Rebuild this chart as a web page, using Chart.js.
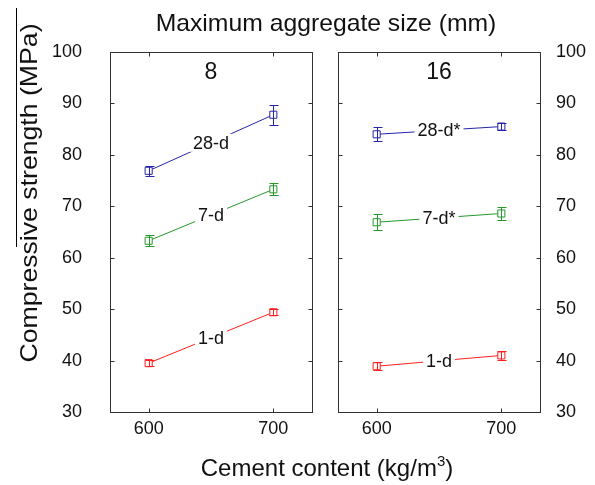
<!DOCTYPE html>
<html><head><meta charset="utf-8">
<script src="https://cdn.jsdelivr.net/npm/chart.js@4/dist/chart.umd.min.js"></script>
<style>
html,body{margin:0;padding:0;background:#fff;}
#wrap{position:relative;width:595px;height:485px;overflow:hidden;font-family:'Liberation Sans',Arial,sans-serif;color:#111;}
canvas{position:absolute;top:0;}
#c1{left:0;} #c2{left:320px;}
.t{position:absolute;white-space:nowrap;font-size:24px;line-height:28px;}
#ttop{left:326px;top:9px;transform:translateX(-50%) scaleX(1.03);}
#tbot{left:327px;top:454px;transform:translateX(-50%);}
#tleft{left:29px;top:193px;transform:translate(-50%,-50%) rotate(-90deg) scaleX(1.11);}
#vline{position:absolute;left:16px;top:8px;width:1px;height:239px;background:#000;}
</style></head><body>
<div id="wrap">
<canvas id="c1" width="320" height="485"></canvas>
<canvas id="c2" width="275" height="485"></canvas>
<div class="t" id="ttop">Maximum aggregate size (mm)</div>
<div class="t" id="tbot">Cement content (kg/m<sup style="font-size:15px;line-height:0;vertical-align:10px">3</sup>)</div>
<div class="t" id="tleft">Compressive strength (MPa)</div>
<div id="vline"></div>
</div>
<script>
// ---- data ----
const cement = [600, 700];
const yTickValues = [30, 40, 50, 60, 70, 80, 90, 100];
const panelTitles = ['8', '16'];
const ages = ['1-d', '7-d', '28-d'];
const ages16 = ['1-d', '7-d*', '28-d*'];
const colors = ['#ff1f1f', '#24992a', '#2424aa'];

const s8_1d  = [39.5, 49.4];  const e8_1d  = [0.6, 0.6];
const s8_7d  = [63.3, 73.3];  const e8_7d  = [1.1, 1.2];
const s8_28d = [76.9, 87.8];  const e8_28d = [1.0, 1.9];

const s16_1d  = [38.9, 41.0]; const e16_1d  = [0.75, 0.9];
const s16_7d  = [66.9, 68.6]; const e16_7d  = [1.6, 1.3];
const s16_28d = [84.0, 85.5]; const e16_28d = [1.35, 0.7];

const FONT = "'Liberation Sans', Arial, sans-serif";

function mkDs(label, vals, errs, color) {
  return {
    label: label,
    data: cement.map((c, k) => ({ x: c, y: vals[k] })),
    errors: errs,
    borderColor: color,
    backgroundColor: '#fff',
    pointBackgroundColor: '#fff',
    pointBorderColor: color,
    pointStyle: 'rect',
    pointRadius: 5,
    pointBorderWidth: 1,
    borderWidth: 1,
    tension: 0
  };
}

const decor = {
  id: 'decor',
  afterDatasetsDraw(chart, args, opts) {
    const ctx = chart.ctx, a = chart.chartArea;
    const x = chart.scales.x, y = chart.scales.y;
    ctx.save();
    chart.data.datasets.forEach((ds, i) => {
      ctx.strokeStyle = ds.borderColor; ctx.lineWidth = 1;
      ds.data.forEach((p, j) => {
        const e = ds.errors[j];
        const px = Math.round(x.getPixelForValue(p.x)) + 0.5;
        const y1 = Math.round(y.getPixelForValue(p.y - e)) + 0.5;
        const y2 = Math.round(y.getPixelForValue(p.y + e)) + 0.5;
        ctx.beginPath();
        ctx.moveTo(px, y1); ctx.lineTo(px, y2);
        ctx.moveTo(px - 4, y1); ctx.lineTo(px + 5, y1);
        ctx.moveTo(px - 4, y2); ctx.lineTo(px + 5, y2);
        ctx.stroke();
      });
      const m = chart.getDatasetMeta(i).data;
      const mx = (m[0].x + m[1].x) / 2, my = (m[0].y + m[1].y) / 2;
      ctx.font = '18px ' + FONT;
      const w = ctx.measureText(ds.label).width;
      ctx.fillStyle = '#fff';
      ctx.fillRect(mx - w / 2 - 3, my - 9, w + 6, 18);
      ctx.fillStyle = '#111';
      ctx.textAlign = 'center'; ctx.textBaseline = 'middle';
      ctx.fillText(ds.label, mx, my + 1);
    });
    // frame
    ctx.strokeStyle = '#333'; ctx.lineWidth = 1;
    const L = Math.round(a.left) + 0.5, R = Math.round(a.right) + 0.5;
    const T = Math.round(a.top) + 0.5, B = Math.round(a.bottom) + 0.5;
    ctx.strokeRect(L, T, R - L, B - T);
    ctx.beginPath();
    y.ticks.forEach(t => {
      const py = Math.round(y.getPixelForValue(t.value)) + 0.5;
      ctx.moveTo(L, py); ctx.lineTo(L + 4, py);
      ctx.moveTo(R, py); ctx.lineTo(R - 4, py);
    });
    x.ticks.forEach(t => {
      const px = Math.round(x.getPixelForValue(t.value)) + 0.5;
      ctx.moveTo(px, T); ctx.lineTo(px, T + 4);
      ctx.moveTo(px, B); ctx.lineTo(px, B - 4);
    });
    ctx.stroke();
    // panel title
    ctx.fillStyle = '#111';
    ctx.font = '23px ' + FONT;
    ctx.textAlign = 'center'; ctx.textBaseline = 'middle';
    ctx.fillText(opts.title, (a.left + a.right) / 2, a.top + 21);
    ctx.restore();
  }
};

function makeChart(id, datasets, title, side) {
  const isLeft = side === 'left';
  return new Chart(document.getElementById(id), {
    type: 'line',
    data: { datasets: datasets },
    plugins: [decor],
    options: {
      responsive: false,
      animation: false,
      layout: { padding: isLeft ? { top: 52, right: 8, left: 0, bottom: 0 } : { top: 52, right: 0, left: 18, bottom: 0 } },
      plugins: { legend: { display: false }, tooltip: { enabled: false }, decor: { title: title } },
      scales: {
        x: {
          type: 'linear', min: 569, max: 731,
          afterBuildTicks: s => { s.ticks = cement.map(v => ({ value: v })); },
          afterFit: s => { s.height = 73; },
          grid: { display: false, drawTicks: false },
          border: { display: false },
          ticks: { font: { size: 18, family: FONT }, color: '#111', padding: 6 }
        },
        y: {
          position: side, min: 30, max: 100,
          afterBuildTicks: s => { s.ticks = yTickValues.map(v => ({ value: v })); },
          afterFit: s => { s.width = isLeft ? 110 : 55; },
          grid: { display: false, drawTicks: false },
          border: { display: false },
          ticks: { font: { size: 18, family: FONT }, color: '#111', padding: isLeft ? 28 : 16 }
        }
      }
    }
  });
}

makeChart('c1', [
  mkDs(ages[0], s8_1d, e8_1d, colors[0]),
  mkDs(ages[1], s8_7d, e8_7d, colors[1]),
  mkDs(ages[2], s8_28d, e8_28d, colors[2])
], panelTitles[0], 'left');

makeChart('c2', [
  mkDs(ages16[0], s16_1d, e16_1d, colors[0]),
  mkDs(ages16[1], s16_7d, e16_7d, colors[1]),
  mkDs(ages16[2], s16_28d, e16_28d, colors[2])
], panelTitles[1], 'right');
</script>
</body></html>
